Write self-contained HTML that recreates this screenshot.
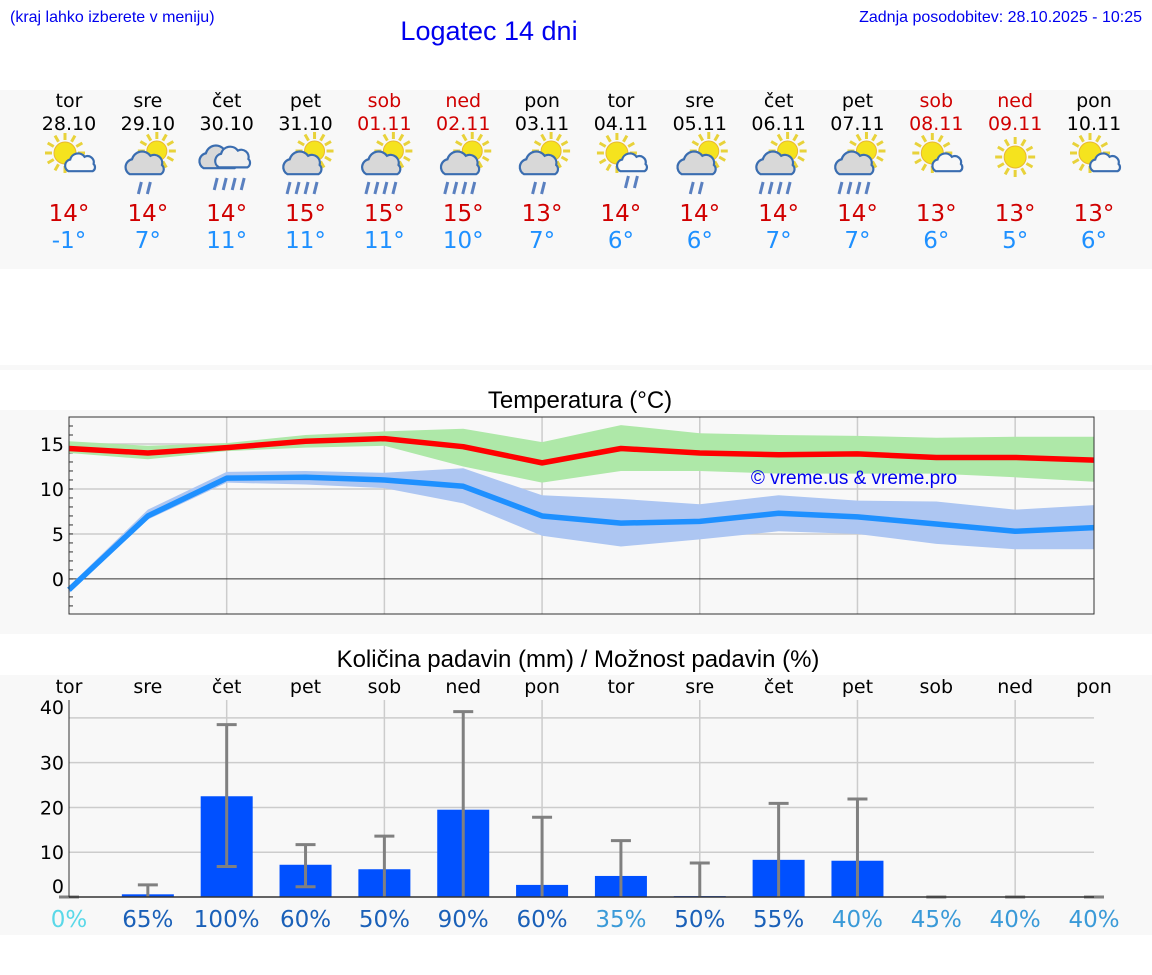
<!DOCTYPE html>
<html><head><meta charset="utf-8">
<style>
body{margin:0;background:#fff;width:1152px;height:975px;overflow:hidden;font-family:"DejaVu Sans","Liberation Sans",sans-serif}
svg{display:block}
</style></head><body>
<svg id="page" width="1152" height="975" xmlns="http://www.w3.org/2000/svg" font-family="DejaVu Sans, Liberation Sans, sans-serif">
<text x="10" y="22" font-size="16" fill="#0000ee" font-family="Liberation Sans, sans-serif">(kraj lahko izberete v meniju)</text>
<text x="489" y="40" font-size="27" fill="#0000ee" text-anchor="middle" font-family="Liberation Sans, sans-serif">Logatec 14 dni</text>
<text x="1142" y="22" font-size="16" fill="#0000ee" text-anchor="end" font-family="Liberation Sans, sans-serif">Zadnja posodobitev: 28.10.2025 - 10:25</text>
<rect x="0" y="90" width="1152" height="179" fill="#f8f8f8"/>
<rect x="0" y="365" width="1152" height="5" fill="#f8f8f8"/>
<rect x="0" y="410" width="1152" height="224" fill="#f8f8f8"/>
<rect x="0" y="675" width="1152" height="260" fill="#f8f8f8"/>
<text x="580" y="408" font-size="24" text-anchor="middle" fill="#000" font-family="Liberation Sans, sans-serif">Temperatura (°C)</text>
<text x="578" y="667" font-size="24" text-anchor="middle" fill="#000" font-family="Liberation Sans, sans-serif">Količina padavin (mm) / Možnost padavin (%)</text>
<g id="summary"></g>
<g id="temp"></g>
<g id="precip"></g>
</svg>
<script>
const days=["tor","sre","čet","pet","sob","ned","pon","tor","sre","čet","pet","sob","ned","pon"];
const dates=["28.10","29.10","30.10","31.10","01.11","02.11","03.11","04.11","05.11","06.11","07.11","08.11","09.11","10.11"];
const weekend=[0,0,0,0,1,1,0,0,0,0,0,1,1,0];
const icons=["pc","sr1","rain","sr","sr","sr","sr1","pcr","sr1","sr","sr","pc","sun","pc"];
const maxT=[14.5,14.0,14.6,15.3,15.6,14.7,12.9,14.5,14.0,13.8,13.9,13.5,13.5,13.2];
const minT=[-1.2,7.0,11.2,11.3,11.0,10.3,7.0,6.2,6.4,7.3,6.9,6.1,5.3,5.7];
const maxLo=[14.0,13.3,14.2,14.6,14.8,12.5,10.7,12.0,12.0,11.7,11.7,11.7,11.3,10.8];
const maxHi=[15.3,14.8,15.1,16.0,16.4,16.7,15.2,17.1,16.2,16.0,15.9,15.7,15.8,15.8];
const minLo=[-1.6,6.6,10.7,10.5,10.1,8.4,4.8,3.6,4.4,5.3,5.0,3.9,3.3,3.3];
const minHi=[-0.8,7.7,11.9,12.0,11.8,12.3,9.3,8.9,8.3,9.3,8.7,8.6,7.7,8.2];
const maxLabels=["14°","14°","14°","15°","15°","15°","13°","14°","14°","14°","14°","13°","13°","13°"];
const minLabels=["-1°","7°","11°","11°","11°","10°","7°","6°","6°","7°","7°","6°","5°","6°"];
const tempTicks=[0,5,10,15];
const precip=[0,0.6,22.5,7.2,6.2,19.5,2.7,4.7,0.2,8.3,8.1,0,0,0];
const precipLo=[0,0,6.8,2.3,0,0,0,0,0,0,0,0,0,0];
const precipHi=[0,2.7,38.5,11.7,13.6,41.4,17.8,12.6,7.6,20.9,21.9,0,0,0];
const chance=[0,65,100,60,50,90,60,35,50,55,40,45,40,40];
const precipTicks=[0,10,20,30,40];

const NS="http://www.w3.org/2000/svg";
function mk(tag,attrs,parent,text){const e=document.createElementNS(NS,tag);for(const k in attrs)e.setAttribute(k,attrs[k]);if(text!==undefined)e.textContent=text;parent.appendChild(e);return e;}
const X0=69,X1=1094,N=14;
const xs=i=>X0+i*(X1-X0)/(N-1);

const S=document.getElementById('summary');
function sun(g,cx,cy,r){for(let a=0;a<12;a++){const t=a*Math.PI/6;mk('line',{x1:cx+Math.cos(t)*(r+2),y1:cy+Math.sin(t)*(r+2),x2:cx+Math.cos(t)*(r+9),y2:cy+Math.sin(t)*(r+9),stroke:'#e8d23a','stroke-width':3},g);}mk('circle',{cx,cy,r,fill:'#f5e31e',stroke:'#e8b830','stroke-width':1},g);}
function cloud(g,cx,cy,s,fill){const p=`M${cx-14*s},${cy+8*s} a${7*s},${7*s} 0 0 1 ${2*s},${-13*s} a${9*s},${9*s} 0 0 1 ${16*s},${-3*s} a${7*s},${7*s} 0 0 1 ${10*s},${8*s} a${5*s},${5*s} 0 0 1 ${-1*s},${8*s} z`;mk('path',{d:p,fill:fill,stroke:'#3a6db0','stroke-width':2.2},g);}
function rain(g,cx,cy,n){for(let k=0;k<n;k++){const x=cx-(n-1)*4.5+k*9;mk('line',{x1:x+2,y1:cy,x2:x-1,y2:cy+12,stroke:'#5a80c0','stroke-width':3},g);}}
for(let i=0;i<N;i++){
 const x=xs(i);const col=weekend[i]?'#d00000':'#000';
 const g=mk('g',{},S);
 
 
 mk('text',{x,y:107,'font-size':19,'text-anchor':'middle',fill:col},g,days[i]);
 mk('text',{x,y:130,'font-size':19,'text-anchor':'middle',fill:col},g,dates[i]);
 const ic=mk('g',{},g);
 
 
 const t=icons[i],cy=160;
 if(t==='sun'){sun(ic,x,cy-3,11);}
 else if(t==='pc'||t==='pcr'){sun(ic,x-4,cy-7,11);cloud(ic,x+12,cy+4,0.9,'#f8f8f8');if(t==='pcr')rain(ic,x+10,cy+16,2);}
 else if(t==='rain'){cloud(ic,x-7,cy-1,1.15,'#d8d8d8');cloud(ic,x+7,cy-1,1.05,'#f0f0f0');rain(ic,x+2,cy+18,4);}
 else {sun(ic,x+9,cy-9,10);cloud(ic,x-2,cy+5,1.15,'#d8d8d8');rain(ic,x-4,cy+22,t==='sr1'?2:4);}
 mk('text',{x,y:221,'font-size':23,'text-anchor':'middle',fill:'#d00000'},g,maxLabels[i]);
 mk('text',{x,y:248,'font-size':23,'text-anchor':'middle',fill:'#1e90ff'},g,minLabels[i]);
}

const T=document.getElementById('temp');
const TY0=417,TY1=614,TMIN=-3.9,TMAX=18;
const ty=v=>TY1-(v-TMIN)/(TMAX-TMIN)*(TY1-TY0);
for(let i=2;i<N;i+=2){const l=mk('line',{x1:xs(i),y1:TY0,x2:xs(i),y2:TY1,stroke:'#ccc','stroke-width':1.5},T);}
for(const v of tempTicks){const l=mk('line',{x1:X0,y1:ty(v),x2:X1,y2:ty(v),stroke:v===0?'#333':'#ccc','stroke-width':v===0?1:1.5},T);
 const tx=mk('text',{x:64,y:ty(v)+7,'font-size':19,'text-anchor':'end',fill:'#000'},T,String(v));}
for(let v=-3;v<=18;v++){mk('line',{x1:X0,y1:ty(v),x2:X0+4,y2:ty(v),stroke:'#333','stroke-width':1},T);}
function band(lo,hi,fill,name){let d='';for(let i=0;i<N;i++)d+=(i?'L':'M')+xs(i)+','+ty(hi[i]);for(let i=N-1;i>=0;i--)d+='L'+xs(i)+','+ty(lo[i]);d+='Z';const p=mk('path',{d,fill},T);}
band(maxLo,maxHi,'#aee8a8','max-temp-range');
band(minLo,minHi,'#adc6f2','min-temp-range');
function line(v,stroke,name){const p=mk('polyline',{points:v.map((y,i)=>xs(i)+','+ty(y)).join(' '),fill:'none',stroke,'stroke-width':5.5,'stroke-linejoin':'round'},T);}
line(maxT,'#ff0000','max-temp-line');
line(minT,'#1e90ff','min-temp-line');
const cp=mk('text',{x:854,y:484,'font-size':19,'text-anchor':'middle',fill:'#0000ee',"font-family":"Liberation Sans, sans-serif"},T,'© vreme.us & vreme.pro');

const tb=mk('rect',{x:X0,y:TY0,width:X1-X0,height:TY1-TY0,fill:'none',stroke:'#333','stroke-width':1},T);


const P=document.getElementById('precip');
const PY0=700,PY1=897,PMAX=44;
const py=v=>PY1-v/PMAX*(PY1-PY0);
for(let i=2;i<N;i+=2){const l=mk('line',{x1:xs(i),y1:PY0,x2:xs(i),y2:PY1,stroke:'#ccc','stroke-width':1.5},P);}
for(const v of precipTicks){if(v>0){const l=mk('line',{x1:X0,y1:py(v),x2:X1,y2:py(v),stroke:'#ccc','stroke-width':1.5},P);}
 const tx=mk('text',{x:64,y:v===40?714:(v===0?893:py(v)+7),'font-size':19,'text-anchor':'end',fill:'#000'},P,String(v));}
for(let i=0;i<N;i++){
 const x=xs(i);
 const dl=mk('text',{x,y:693,'font-size':19,'text-anchor':'middle',fill:'#000'},P,days[i]);
 
 if(precip[i]>0){const b=mk('rect',{x:x-26,y:py(precip[i]),width:52,height:PY1-py(precip[i]),fill:'#0050ff'},P);}
 const e=mk('g',{stroke:'#808080','stroke-width':3},P);
 
 
 mk('line',{x1:x,y1:py(precipLo[i]),x2:x,y2:py(precipHi[i])},e);
 mk('line',{x1:x-10,y1:py(precipHi[i]),x2:x+10,y2:py(precipHi[i])},e);
 if(precipLo[i]>0)mk('line',{x1:x-10,y1:py(precipLo[i]),x2:x+10,y2:py(precipLo[i])},e);
 const c=chance[i];const col=c===0?'#5ad8e8':(c<=45?'#3a9ad8':'#1a60b8');
 const ct=mk('text',{x,y:927,'font-size':23,'text-anchor':'middle',fill:col},P,c+'%');
 
}
mk('line',{x1:X0,y1:PY0,x2:X0,y2:PY1,stroke:'#333','stroke-width':1},P);
mk('line',{x1:X0,y1:PY1,x2:X1,y2:PY1,stroke:'#333','stroke-width':1.5},P);
</script>
</body></html>
